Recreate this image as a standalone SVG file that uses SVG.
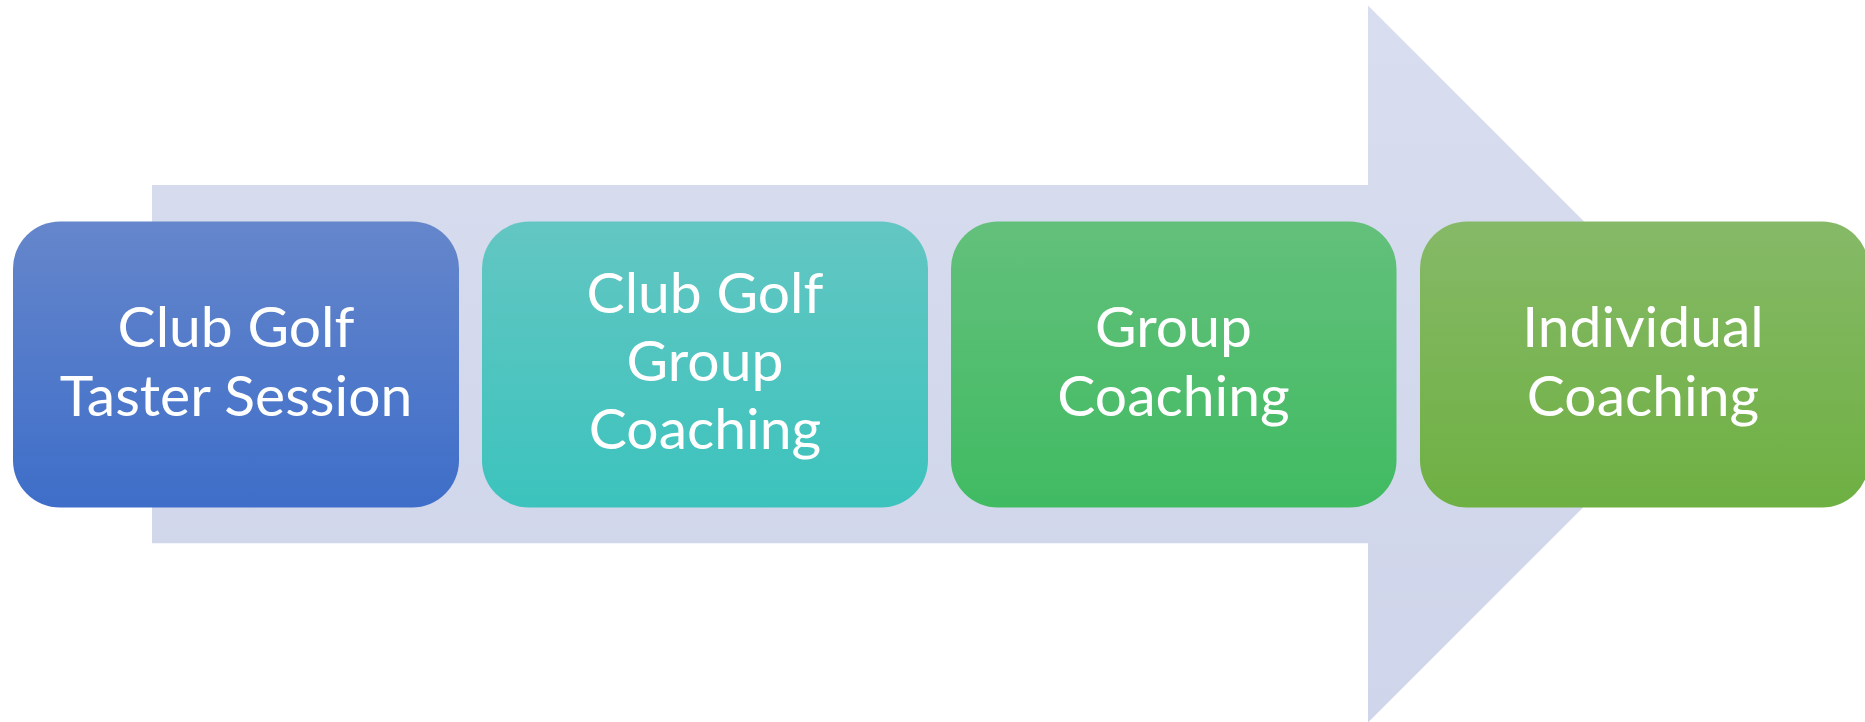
<svg xmlns="http://www.w3.org/2000/svg" width="1865" height="722" viewBox="0 0 1865 722">
  <defs>
    <linearGradient id="gArrow" x1="0" y1="0" x2="0" y2="1">
      <stop offset="0" stop-color="#D8DDEF"/>
      <stop offset="1" stop-color="#CFD5EA"/>
    </linearGradient>
    <linearGradient id="g1" x1="0" y1="0" x2="0" y2="1">
      <stop offset="0" stop-color="#6586CB"/>
      <stop offset="1" stop-color="#3E6EC9"/>
    </linearGradient>
    <linearGradient id="g2" x1="0" y1="0" x2="0" y2="1">
      <stop offset="0" stop-color="#63C6C2"/>
      <stop offset="1" stop-color="#3CC3BD"/>
    </linearGradient>
    <linearGradient id="g3" x1="0" y1="0" x2="0" y2="1">
      <stop offset="0" stop-color="#63C07B"/>
      <stop offset="1" stop-color="#40BB62"/>
    </linearGradient>
    <linearGradient id="g4" x1="0" y1="0" x2="0" y2="1">
      <stop offset="0" stop-color="#86B967"/>
      <stop offset="1" stop-color="#6EB042"/>
    </linearGradient>
  </defs>
  <style>
    .lbl { font-family: Lato, "Open Sans", "Liberation Sans", sans-serif; font-size: 57px; fill: #FFFFFF; text-anchor: middle; }
  </style>
  <rect width="1865" height="722" fill="#FFFFFF"/>
  <g id="arrow">
    <polygon points="152,185 1368,185 1368,5.5 1726.5,364 1368,722.5 1368,543.3 152,543.3" fill="url(#gArrow)"/>
  </g>
  <g id="connectors"></g>
  <g id="node1">
    <rect x="13" y="221.5" width="446" height="286" rx="47" ry="47" fill="url(#g1)"/>
    <text class="lbl" x="236" y="347">Club Golf</text>
    <text class="lbl" x="236" y="416">Taster Session</text>
  </g>
  <g id="node2">
    <rect x="482" y="221.5" width="446" height="286" rx="47" ry="47" fill="url(#g2)"/>
    <text class="lbl" x="705" y="313">Club Golf</text>
    <text class="lbl" x="705" y="381">Group</text>
    <text class="lbl" x="705" y="449">Coaching</text>
  </g>
  <g id="node3">
    <rect x="951" y="221.5" width="445.5" height="286" rx="47" ry="47" fill="url(#g3)"/>
    <text class="lbl" x="1173.5" y="347">Group</text>
    <text class="lbl" x="1173.5" y="416">Coaching</text>
  </g>
  <g id="node4">
    <rect x="1420" y="221.5" width="449" height="286" rx="47" ry="47" fill="url(#g4)"/>
    <text class="lbl" x="1643" y="347">Individual</text>
    <text class="lbl" x="1643" y="416">Coaching</text>
  </g>
</svg>
